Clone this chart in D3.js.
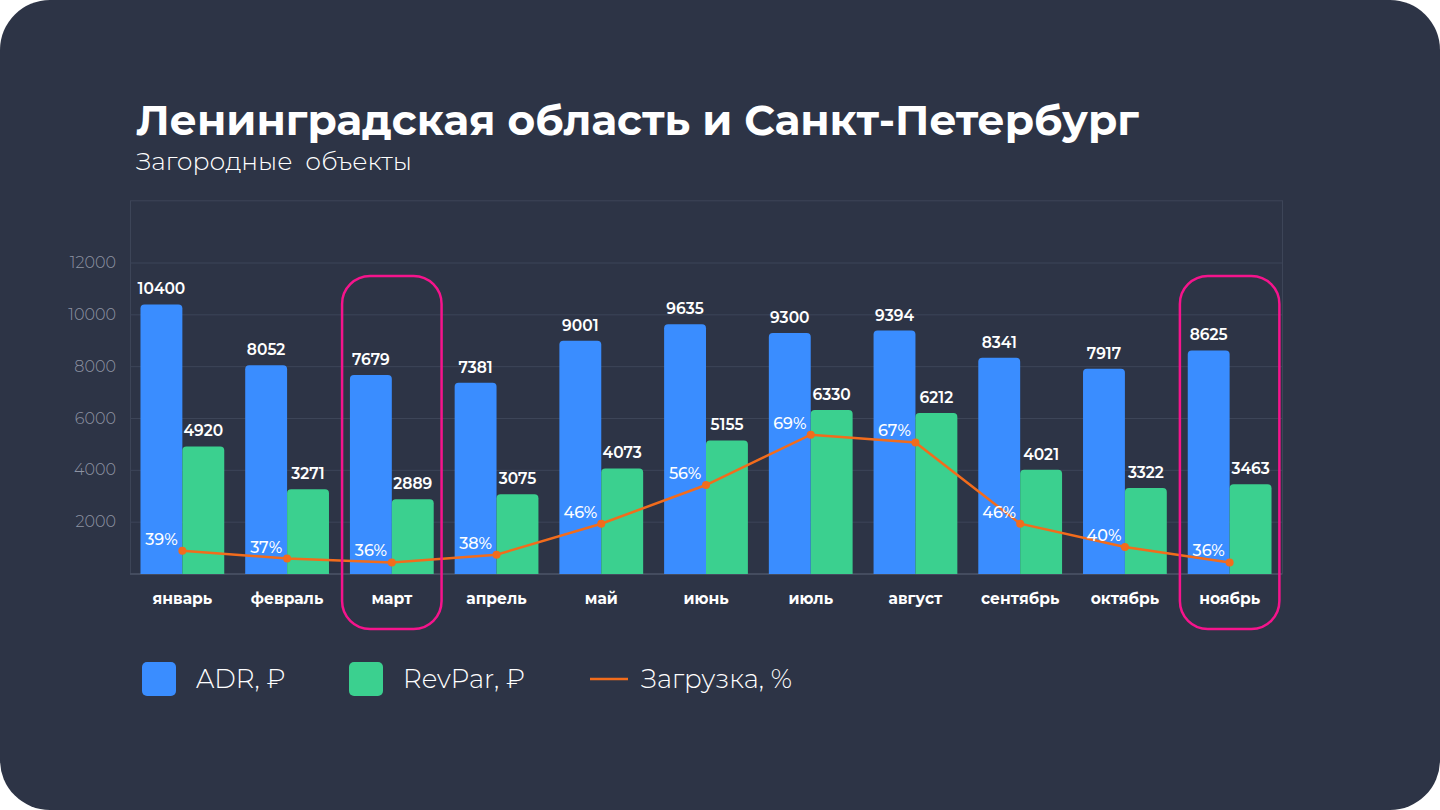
<!DOCTYPE html>
<html>
<head>
<meta charset="utf-8">
<script src="https://cdn.jsdelivr.net/npm/d3@7"></script>
<style>
  html, body { margin: 0; padding: 0; background: #ffffff; }
  svg { display: block; font-family: Montserrat, Inter, "Noto Sans", sans-serif; }
</style>
</head>
<body>
<svg id="canvas"></svg>
<script>
const months = ['январь', 'февраль', 'март', 'апрель', 'май', 'июнь', 'июль', 'август', 'сентябрь', 'октябрь', 'ноябрь'];
const adr = [10400, 8052, 7679, 7381, 9001, 9635, 9300, 9394, 8341, 7917, 8625];
const revpar = [4920, 3271, 2889, 3075, 4073, 5155, 6330, 6212, 4021, 3322, 3463];
const load = [39, 37, 36, 38, 46, 56, 69, 67, 46, 40, 36];
const yTicks = [0, 2000, 4000, 6000, 8000, 10000, 12000];
const highlighted = ['март', 'ноябрь'];

const width = 1440;
const height = 810;

const blue = '#3a8dff';
const green = '#3bd08f';
const orange = '#f26c1c';
const pink = '#f5148c';

const canvas = d3.select('#canvas').attr('width', width).attr('height', height);

canvas.append('rect')
  .attr('width', width).attr('height', height)
  .attr('rx', 50)
  .attr('fill', '#2d3446');

// titles
canvas.append('text')
  .attr('x', 136).attr('y', 135)
  .attr('fill', '#ffffff')
  .attr('font-size', 42.3)
  .attr('font-weight', 700)
  .text('Ленинградская область и Санкт-Петербург');

canvas.append('text')
  .attr('x', 136).attr('y', 170)
  .attr('fill', '#ffffff')
  .attr('font-size', 25)
  .attr('font-weight', 300)
  .attr('xml:space', 'preserve')
  .text('Загородные  объекты');

// scales
const x = d3.scaleBand().domain(months).range([130, 1282]).paddingInner(0.2).paddingOuter(0.1);
const step = x.step();
const bw = x.bandwidth() / 2;
const y = d3.scaleLinear().domain([0, 12000]).range([574, 263]);
const yPct = d3.scaleLinear().domain([33, 100]).range([y(0), y(10000)]);

// frame
canvas.append('rect')
  .attr('x', 130.5).attr('y', y(14400))
  .attr('width', 1282 - 130).attr('height', y(0) - y(14400))
  .attr('fill', 'none')
  .attr('stroke', '#3d4558')
  .attr('stroke-width', 1);

// grid
canvas.append('g')
  .selectAll('line')
  .data(yTicks)
  .enter()
  .append('line')
  .attr('x1', 130).attr('x2', 1282)
  .attr('y1', (d) => y(d)).attr('y2', (d) => y(d))
  .attr('stroke', (d) => (d === 0 ? '#4a5264' : '#3d4558'))
  .attr('stroke-width', (d) => (d === 0 ? 1.5 : 1));

canvas.append('g')
  .selectAll('text')
  .data(yTicks.filter((d) => d > 0))
  .enter()
  .append('text')
  .attr('x', 116)
  .attr('y', (d) => y(d) + 5)
  .attr('text-anchor', 'end')
  .attr('fill', '#8d93a3')
  .attr('font-size', 16)
  .attr('font-weight', 300)
  .text((d) => d);

// bar with rounded top
const topRounded = (x0, x1, yTop, yBottom, r) =>
  `M${x0},${yBottom}V${yTop + r}Q${x0},${yTop} ${x0 + r},${yTop}H${x1 - r}Q${x1},${yTop} ${x1},${yTop + r}V${yBottom}Z`;

const groups = canvas.append('g')
  .selectAll('g')
  .data(months)
  .enter()
  .append('g');

groups.append('path')
  .attr('fill', blue)
  .attr('d', (m, i) => topRounded(x(m), x(m) + bw, y(adr[i]), y(0), 4));

groups.append('path')
  .attr('fill', green)
  .attr('d', (m, i) => topRounded(x(m) + bw, x(m) + 2 * bw, y(revpar[i]), y(0), 4));

groups.append('text')
  .attr('x', (m) => x(m) + bw / 2)
  .attr('y', (m, i) => y(adr[i]) - 10)
  .attr('text-anchor', 'middle')
  .attr('fill', '#ffffff')
  .attr('font-size', 15.5)
  .attr('font-weight', 600)
  .text((m, i) => adr[i]);

groups.append('text')
  .attr('x', (m) => x(m) + bw * 1.5)
  .attr('y', (m, i) => y(revpar[i]) - 10)
  .attr('text-anchor', 'middle')
  .attr('fill', '#ffffff')
  .attr('font-size', 15.5)
  .attr('font-weight', 600)
  .text((m, i) => revpar[i]);

groups.append('text')
  .attr('x', (m) => x(m) + bw)
  .attr('y', 604)
  .attr('text-anchor', 'middle')
  .attr('fill', '#ffffff')
  .attr('font-size', 15.5)
  .attr('font-weight', 700)
  .text((m) => m);

// load line
const line = d3.line()
  .x((d, i) => x(months[i]) + bw)
  .y((d) => yPct(d));

canvas.append('path')
  .datum(load)
  .attr('d', line)
  .attr('fill', 'none')
  .attr('stroke', orange)
  .attr('stroke-width', 2.5);

canvas.append('g')
  .selectAll('circle')
  .data(load)
  .enter()
  .append('circle')
  .attr('cx', (d, i) => x(months[i]) + bw)
  .attr('cy', (d) => yPct(d))
  .attr('r', 4)
  .attr('fill', orange);

canvas.append('g')
  .selectAll('text')
  .data(load)
  .enter()
  .append('text')
  .attr('x', (d, i) => x(months[i]) + bw / 2)
  .attr('y', (d) => yPct(d) - 6)
  .attr('text-anchor', 'middle')
  .attr('fill', '#ffffff')
  .attr('font-size', 16)
  .attr('font-weight', 500)
  .text((d) => d + '%');

// highlight frames
canvas.append('g')
  .selectAll('rect')
  .data(highlighted)
  .enter()
  .append('rect')
  .attr('x', (m) => x(m) + bw - step * 0.475)
  .attr('y', y(11500))
  .attr('width', step * 0.95)
  .attr('height', y(0) + 55 - y(11500))
  .attr('rx', 28)
  .attr('fill', 'none')
  .attr('stroke', pink)
  .attr('stroke-width', 2.5);

// legend
const legend = canvas.append('g').attr('transform', 'translate(142,679)');
const items = [
  { label: 'ADR, ₽', color: blue, kind: 'box', x: 0 },
  { label: 'RevPar, ₽', color: green, kind: 'box', x: 207 },
  { label: 'Загрузка, %', color: orange, kind: 'line', x: 448 },
];
items.forEach((it) => {
  const g = legend.append('g').attr('transform', `translate(${it.x},0)`);
  if (it.kind === 'box') {
    g.append('rect').attr('x', 0).attr('y', -17).attr('width', 34).attr('height', 34).attr('rx', 5).attr('fill', it.color);
  } else {
    g.append('line').attr('x1', 0).attr('x2', 38).attr('y1', 0).attr('y2', 0).attr('stroke', it.color).attr('stroke-width', 2.5);
  }
  g.append('text')
    .attr('x', it.kind === 'box' ? 54 : 51)
    .attr('y', 9)
    .attr('fill', '#ffffff')
    .attr('font-size', 26)
    .attr('font-weight', 300)
    .text(it.label);
});
</script>
</body>
</html>
